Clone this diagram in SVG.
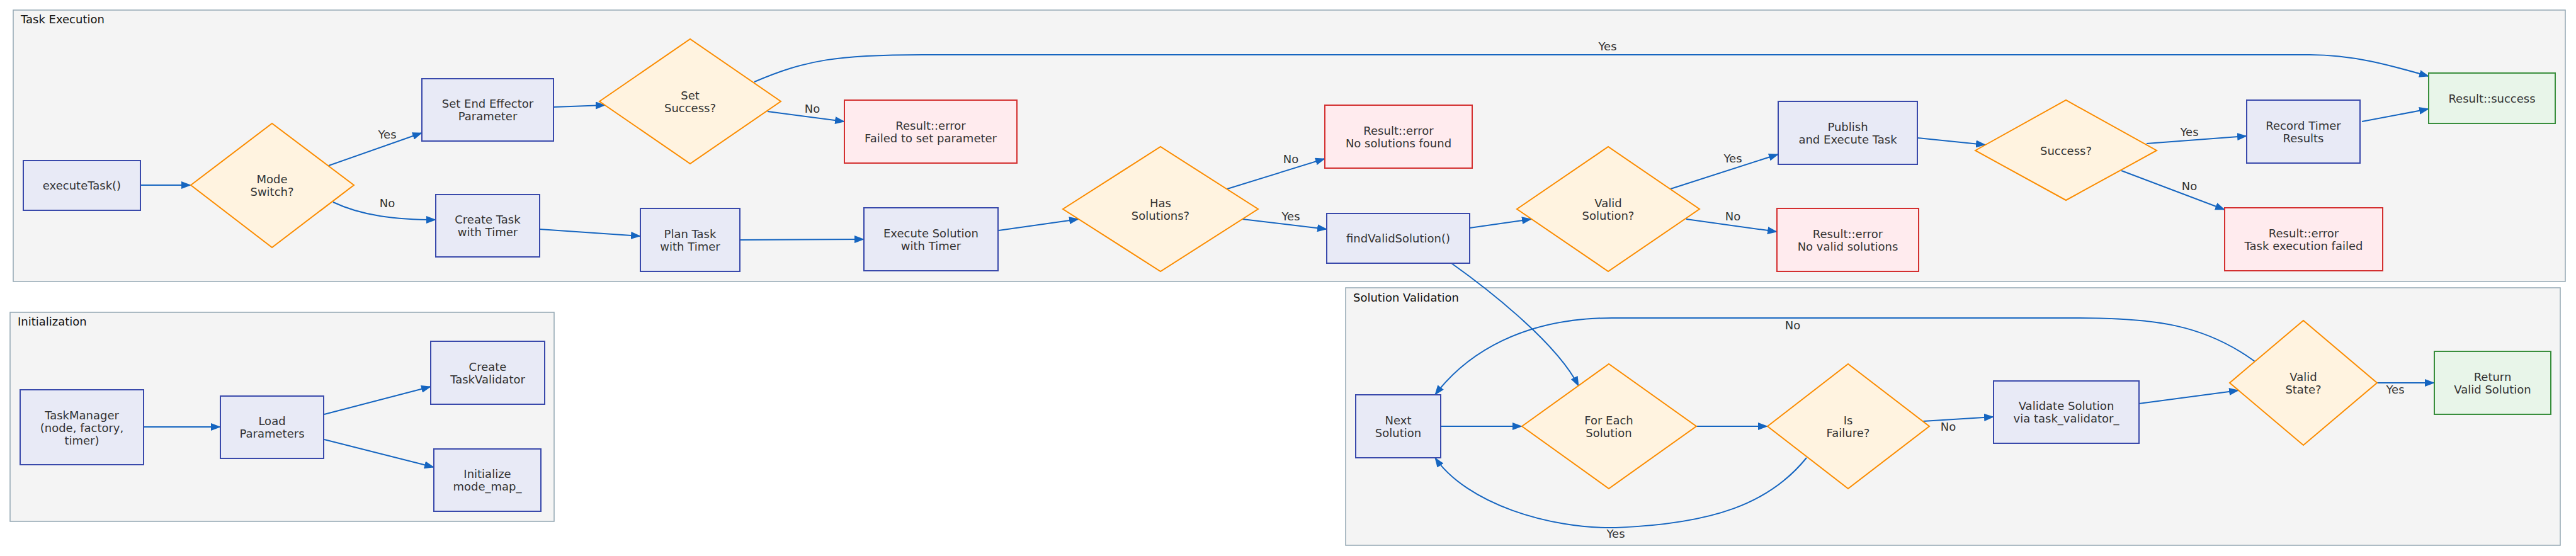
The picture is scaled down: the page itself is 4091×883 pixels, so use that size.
<svg xmlns="http://www.w3.org/2000/svg" width="4091" height="883" viewBox="0 0 4091 883">
<defs>
<marker id="arr" viewBox="0 0 16 12" refX="15" refY="6" markerWidth="16" markerHeight="12" markerUnits="userSpaceOnUse" orient="auto">
<path d="M0,0 L16,6 L0,12 z" fill="#1565c0"/>
</marker>
<style>
.cl{fill:#f4f4f4;stroke:#93a7b3;stroke-width:1.5}
.ct{font-family:"DejaVu Sans",sans-serif;font-size:18px;fill:#111}
.bx rect{fill:#e8eaf6;stroke:#3949ab;stroke-width:2}
.dm polygon{fill:#fff3e0;stroke:#fb8c00;stroke-width:2}
.er rect{fill:#ffebee;stroke:#d32f2f;stroke-width:2}
.ok rect{fill:#e8f5e9;stroke:#388e3c;stroke-width:2}
text{font-family:"DejaVu Sans",sans-serif;font-size:18px;fill:#333;text-anchor:middle;dominant-baseline:central}
.ct{text-anchor:start}
.ed path{fill:none;stroke:#1565c0;stroke-width:2;marker-end:url(#arr)}
</style>
</defs>
<rect width="4091" height="883" fill="#ffffff"/>

<g id="cluster-task-execution">
<rect class="cl" x="21" y="16" width="4053" height="431"/>
<text class="ct" x="33" y="30">Task Execution</text>
</g>
<g id="cluster-initialization">
<rect class="cl" x="16" y="496" width="864" height="332"/>
<text class="ct" x="28" y="510">Initialization</text>
</g>
<g id="cluster-solution-validation">
<rect class="cl" x="2137" y="457" width="1929" height="409"/>
<text class="ct" x="2149" y="472">Solution Validation</text>
</g>

<g id="connectors" class="ed">
<path d="M223,294 L303,294"/>
<path d="M522,263 L670,211"/>
<path d="M529,321 C575,343 630,349 692,349"/>
<path d="M879,170 L961,167"/>
<path d="M1198,130 C1280,95 1330,87 1465,87 L3668,87 C3740,87 3800,105 3857,121"/>
<path d="M1219,177 L1341,193"/>
<path d="M857,364 L1017,375"/>
<path d="M1175,381 L1372,380"/>
<path d="M1586,366 L1713,348"/>
<path d="M1949,300 L2104,252"/>
<path d="M1973,348 L2107,364"/>
<path d="M2334,362 L2432,348"/>
<path d="M2653,300 L2824,245"/>
<path d="M2678,348 L2822,368"/>
<path d="M3045,219 L3153,230"/>
<path d="M3409,228 L3568,216"/>
<path d="M3369,271 L3533,333"/>
<path d="M3751,193 L3857,173"/>
<path d="M2305,418 C2350,450 2470,540 2507,613"/>
<path d="M228,678 L350,678"/>
<path d="M515,658 L684,614"/>
<path d="M515,698 L689,742"/>
<path d="M2288,677 L2417,677"/>
<path d="M2694,677 L2807,677"/>
<path d="M3054,669 L3166,662"/>
<path d="M3397,641 L3555,620"/>
<path d="M3775,608 L3866,608"/>
<path d="M3581,574 C3500,515 3420,505 3300,505 L2560,505 C2420,505 2330,560 2279,627"/>
<path d="M2869,727 C2810,800 2720,832 2566,838 C2460,840 2330,800 2279,727"/>
</g>

<g id="edge-labels">
<text x="615" y="213">Yes</text>
<text x="615" y="322">No</text>
<text x="2553" y="73">Yes</text>
<text x="1290" y="172">No</text>
<text x="2050" y="252">No</text>
<text x="2050" y="343">Yes</text>
<text x="2752" y="251">Yes</text>
<text x="2752" y="343">No</text>
<text x="3477" y="209">Yes</text>
<text x="3477" y="295">No</text>
<text x="3094" y="677">No</text>
<text x="3804" y="618">Yes</text>
<text x="2847" y="516">No</text>
<text x="2566" y="847">Yes</text>
</g>

<g id="n-executeTask" class="bx"><rect x="37" y="255" width="186" height="79"/><text x="130" y="294.5">executeTask()</text></g>
<g id="n-modeSwitch" class="dm"><polygon points="303,294 432,196 562,294 432,393"/><text x="432" y="284">Mode</text><text x="432" y="304">Switch?</text></g>
<g id="n-setEEP" class="bx"><rect x="670" y="125" width="209" height="99"/><text x="774.5" y="164.5">Set End Effector</text><text x="774.5" y="184.5">Parameter</text></g>
<g id="n-setSuccess" class="dm"><polygon points="952,161 1096,62 1240,161 1096,260"/><text x="1096" y="151">Set</text><text x="1096" y="171">Success?</text></g>
<g id="n-createTask" class="bx"><rect x="692" y="309" width="165" height="99"/><text x="774.5" y="348.5">Create Task</text><text x="774.5" y="368.5">with Timer</text></g>
<g id="n-planTask" class="bx"><rect x="1017" y="331" width="158" height="100"/><text x="1096" y="371">Plan Task</text><text x="1096" y="391">with Timer</text></g>
<g id="n-errParam" class="er"><rect x="1341" y="159" width="274" height="100"/><text x="1478" y="199">Result::error</text><text x="1478" y="219">Failed to set parameter</text></g>
<g id="n-execSolution" class="bx"><rect x="1372" y="330" width="213" height="100"/><text x="1478.5" y="370">Execute Solution</text><text x="1478.5" y="390">with Timer</text></g>
<g id="n-hasSolutions" class="dm"><polygon points="1688,332 1843,233 1998,332 1843,431"/><text x="1843" y="322">Has</text><text x="1843" y="342">Solutions?</text></g>
<g id="n-errNoSol" class="er"><rect x="2104" y="167" width="234" height="100"/><text x="2221" y="207">Result::error</text><text x="2221" y="227">No solutions found</text></g>
<g id="n-findValid" class="bx"><rect x="2107" y="339" width="227" height="79"/><text x="2220.5" y="378.5">findValidSolution()</text></g>
<g id="n-validSolution" class="dm"><polygon points="2409,332 2554,233 2699,332 2554,431"/><text x="2554" y="322">Valid</text><text x="2554" y="342">Solution?</text></g>
<g id="n-publish" class="bx"><rect x="2824" y="161" width="221" height="100"/><text x="2934.5" y="201">Publish</text><text x="2934.5" y="221">and Execute Task</text></g>
<g id="n-errNoValid" class="er"><rect x="2822" y="331" width="225" height="100"/><text x="2934.5" y="371">Result::error</text><text x="2934.5" y="391">No valid solutions</text></g>
<g id="n-successQ" class="dm"><polygon points="3137,239 3281,159 3425,239 3281,318"/><text x="3281" y="239">Success?</text></g>
<g id="n-recordTimer" class="bx"><rect x="3568" y="159" width="180" height="100"/><text x="3658" y="199">Record Timer</text><text x="3658" y="219">Results</text></g>
<g id="n-errExec" class="er"><rect x="3533" y="330" width="251" height="100"/><text x="3658.5" y="370">Result::error</text><text x="3658.5" y="390">Task execution failed</text></g>
<g id="n-success" class="ok"><rect x="3857" y="116" width="201" height="80"/><text x="3957.5" y="156">Result::success</text></g>

<g id="n-taskManager" class="bx"><rect x="32" y="619" width="196" height="119"/><text x="130" y="659">TaskManager</text><text x="130" y="679">(node, factory,</text><text x="130" y="699">timer)</text></g>
<g id="n-loadParams" class="bx"><rect x="350" y="629" width="164" height="99"/><text x="432" y="668.5">Load</text><text x="432" y="688.5">Parameters</text></g>
<g id="n-createValidator" class="bx"><rect x="684" y="542" width="181" height="100"/><text x="774.5" y="582">Create</text><text x="774.5" y="602">TaskValidator</text></g>
<g id="n-initModeMap" class="bx"><rect x="689" y="713" width="170" height="99"/><text x="774" y="752.5">Initialize</text><text x="774" y="772.5">mode_map_</text></g>

<g id="n-nextSolution" class="bx"><rect x="2153" y="627" width="135" height="100"/><text x="2220.5" y="667">Next</text><text x="2220.5" y="687">Solution</text></g>
<g id="n-forEach" class="dm"><polygon points="2417,677 2555,578 2694,677 2555,776"/><text x="2555" y="667">For Each</text><text x="2555" y="687">Solution</text></g>
<g id="n-isFailure" class="dm"><polygon points="2807,677 2935,578 3064,677 2935,776"/><text x="2935" y="667">Is</text><text x="2935" y="687">Failure?</text></g>
<g id="n-validate" class="bx"><rect x="3166" y="605" width="231" height="99"/><text x="3281.5" y="644.5">Validate Solution</text><text x="3281.5" y="664.5">via task_validator_</text></g>
<g id="n-validState" class="dm"><polygon points="3541,608 3658,509 3775,608 3658,707"/><text x="3658" y="598">Valid</text><text x="3658" y="618">State?</text></g>
<g id="n-returnValid" class="ok"><rect x="3866" y="558" width="185" height="100"/><text x="3958.5" y="598">Return</text><text x="3958.5" y="618">Valid Solution</text></g>
</svg>
